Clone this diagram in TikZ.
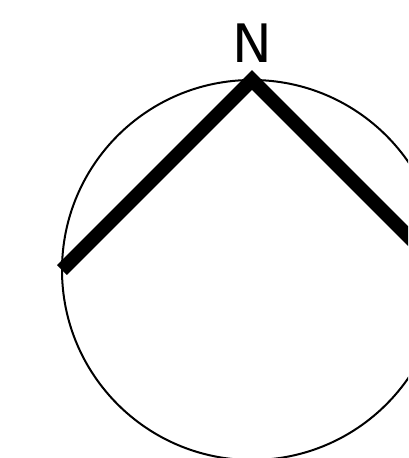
\documentclass[tikz,border=0pt]{standalone}
\usepackage{fontspec}
\newfontfamily\labelfont{DejaVu Sans}
\begin{document}
\begin{tikzpicture}[x=1pt,y=-1pt,
  ring/.style={draw=black,line width=2pt},
  arrowline/.style={draw=black,line width=14pt,line join=miter,line cap=butt},
  lbl/.style={font=\labelfont\fontsize{53}{60}\selectfont,inner sep=0pt,anchor=base}]
\useasboundingbox (0,0) rectangle (408,458);
\clip (0,0) rectangle (408,458);
\coordinate (c) at (252,270);
\draw[ring] (c) circle[radius=190];
\coordinate (l) at (62,270);
\coordinate (t) at (252,80);
\coordinate (r) at (442,270);
\draw[arrowline] (l) -- (t) -- (r);
\node[lbl] (n) at (252,62) {N};
\end{tikzpicture}
\end{document}
